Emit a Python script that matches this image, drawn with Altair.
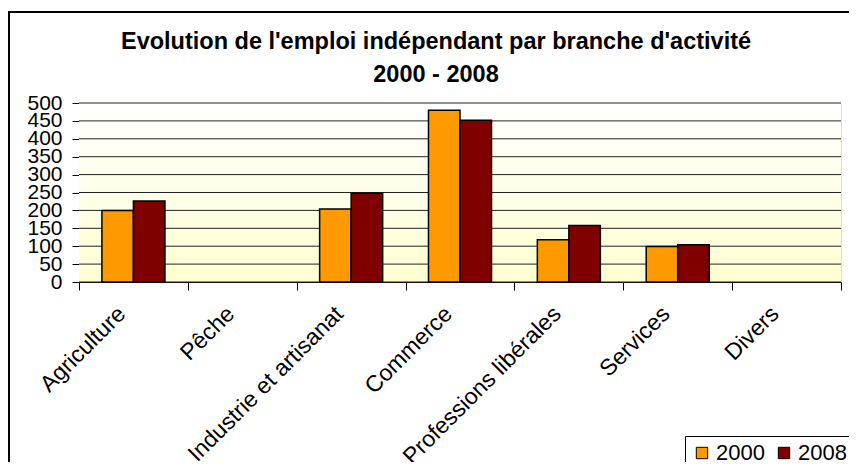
import altair as alt
import pandas as pd

categories = ["Agriculture", "Pêche", "Industrie et artisanat", "Commerce",
              "Professions libérales", "Services", "Divers"]
years = ["2000", "2008"]
values_2000 = [200, None, 204, 480, 118, 99, None]
values_2008 = [226, None, 248, 452, 158, 104, None]
y_ticks = [0, 50, 100, 150, 200, 250, 300, 350, 400, 450, 500]
title_lines = ["Evolution de l'emploi indépendant par branche d'activité", "2000 - 2008"]
colors = ["#FF9900", "#800000"]

rows = []
for c, a, b in zip(categories, values_2000, values_2008):
    rows.append({"category": c, "year": years[0], "value": a})
    rows.append({"category": c, "year": years[1], "value": b})
df = pd.DataFrame(rows)
grid_df = pd.DataFrame({"value": y_ticks})

FONT = "Liberation Sans"
W, H = 762, 179

y_axis = alt.Axis(values=y_ticks, grid=False, labelFontSize=21, labelFont=FONT,
                  labelColor="black", labelPadding=10, tickSize=7,
                  tickColor="black", domainColor="black", labelOverlap=False,
                  labelFlush=False, tickCount=11)
y_scale = alt.Scale(domain=[0, 500])

background = alt.Chart(alt.Data(values=[{}])).mark_rect(
    color=alt.LinearGradient(
        gradient="linear",
        stops=[alt.GradientStop(color="#FFFFFF", offset=0),
               alt.GradientStop(color="#FFFFD2", offset=1)],
        x1=0, x2=0, y1=0, y2=1,
    )
).encode(x=alt.value(0), x2=alt.value(W), y=alt.value(0), y2=alt.value(H))

frame = alt.Chart(alt.Data(values=[{}])).mark_rect(
    fill=None, stroke="black", strokeWidth=2
).encode(x=alt.value(-70), x2=alt.value(W + 60), y=alt.value(-91), y2=alt.value(H + 220))

grid = alt.Chart(grid_df).mark_rule(color="#222222", strokeWidth=1).encode(
    y=alt.Y("value:Q", title=None, scale=y_scale, axis=y_axis)
)

bars = alt.Chart(df).mark_bar(stroke="black", strokeWidth=1.5).encode(
    x=alt.X("category:N", sort=categories, title=None,
            scale=alt.Scale(paddingInner=0, paddingOuter=0),
            axis=alt.Axis(labelAngle=-45, labelAlign="right", labelBaseline="middle",
                          labelFontSize=23, labelFont=FONT, labelColor="black",
                          labelPadding=20, labelOffset=-12, tickBand="extent", tickSize=8,
                          tickColor="black", domainColor="black", grid=False,
                          labelLimit=400)),
    xOffset=alt.XOffset("year:N", sort=years,
                        scale=alt.Scale(paddingOuter=0.727, paddingInner=0)),
    y=alt.Y("value:Q", title=None, scale=y_scale, axis=y_axis),
    color=alt.Color("year:N", scale=alt.Scale(domain=years, range=colors),
                    legend=alt.Legend(title=None, orient="none", legendX=606, legendY=333,
                                      direction="horizontal", strokeColor="black",
                                      fillColor="white", padding=6, labelFontSize=22,
                                      labelFont=FONT, labelColor="black",
                                      symbolType="square", symbolSize=130,
                                      symbolStrokeColor="black", symbolStrokeWidth=1,
                                      columnPadding=8, labelOffset=3)),
)

chart = alt.layer(frame, background, grid, bars).properties(
    width=W, height=H,
    autosize=alt.AutoSizeParams(type="none"),
    padding={"left": 71, "top": 95, "right": 8, "bottom": 180},
    title=alt.TitleParams(text=title_lines, fontSize=23.5, font=FONT, fontWeight="bold",
                          anchor="middle", frame="group", dx=-24, dy=75, offset=0,
                          lineHeight=33, color="black"),
).configure_view(stroke="#888888").configure(background="white")

chart.save("out.html", embed_options={"renderer": "svg", "actions": False})
